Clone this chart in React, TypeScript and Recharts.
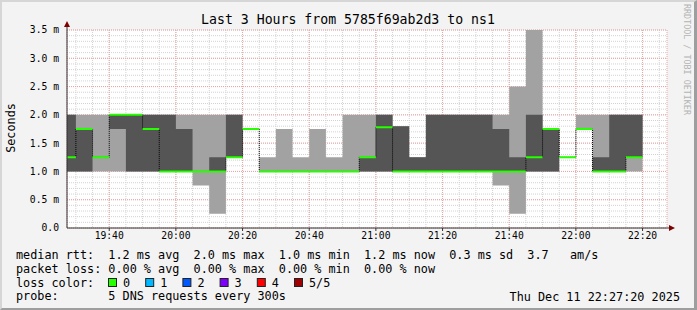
import React from 'react';
import { ComposedChart, Area, Line, XAxis, YAxis, CartesianGrid } from 'recharts';

const MONO = '"DejaVu Sans Mono", monospace';

// 5-minute bins (start of each bin), values in milliseconds
const binTimes = [
  '19:25', '19:30', '19:35', '19:40', '19:45', '19:50', '19:55',
  '20:00', '20:05', '20:10', '20:15', '20:20', '20:25', '20:30', '20:35', '20:40', '20:45', '20:50', '20:55',
  '21:00', '21:05', '21:10', '21:15', '21:20', '21:25', '21:30', '21:35', '21:40', '21:45', '21:50', '21:55',
  '22:00', '22:05', '22:10', '22:15',
];
const rttMin = [
  1.0, 1.0, 1.0, 1.0, 1.0, 1.0, 1.0,
  1.0, 0.75, 0.25, 1.25, 1.75, 1.0, 1.0, 1.0, 1.0, 1.0, 1.0, 1.0,
  1.0, 1.0, 1.0, 1.0, 1.0, 1.0, 1.0, 0.75, 0.25, 1.0, 1.0, 1.25,
  1.75, 1.0, 1.0, 1.0,
];
const rttLow = [
  1.0, 1.0, 1.25, 1.75, 1.0, 1.0, 1.0,
  1.0, 1.0, 1.0, 1.25, 1.75, 1.0, 1.0, 1.0, 1.0, 1.0, 1.0, 1.0,
  1.0, 1.0, 1.0, 1.0, 1.0, 1.0, 1.0, 1.0, 1.0, 1.0, 1.0, 1.25,
  1.75, 1.0, 1.0, 1.25,
];
const rttMedian = [
  1.25, 1.75, 1.25, 2.0, 2.0, 1.75, 1.0,
  1.0, 1.0, 1.0, 1.25, 1.75, 1.0, 1.0, 1.0, 1.0, 1.0, 1.0, 1.25,
  1.78, 1.0, 1.0, 1.0, 1.0, 1.0, 1.0, 1.0, 1.0, 1.25, 1.75, 1.25,
  1.75, 1.0, 1.0, 1.25,
];
const rttHigh = [
  2.0, 1.75, 1.25, 2.0, 2.0, 2.0, 2.0,
  1.75, 1.0, 1.25, 2.0, 1.75, 1.0, 1.0, 1.0, 1.0, 1.0, 1.0, 1.25,
  2.0, 1.8, 1.25, 2.0, 2.0, 2.0, 2.0, 1.75, 1.25, 2.0, 1.75, 1.25,
  1.75, 1.25, 2.0, 2.0,
];
const rttMax = [
  2.0, 2.0, 2.0, 2.0, 2.0, 2.0, 2.0,
  2.0, 2.0, 2.0, 2.0, 1.75, 1.25, 1.75, 1.25, 1.75, 1.25, 2.0, 2.0,
  2.0, 1.8, 1.25, 2.0, 2.0, 2.0, 2.0, 2.0, 2.5, 3.5, 1.75, 1.25,
  2.0, 2.0, 2.0, 2.0,
];

const xTickLabels = ['19:40', '20:00', '20:20', '20:40', '21:00', '21:20', '21:40', '22:00', '22:20'];
const yTicks = [0, 0.5, 1.0, 1.5, 2.0, 2.5, 3.0, 3.5];

const lossColors = [
  { label: '0', color: '#26ff00' },
  { label: '1', color: '#00b8ff' },
  { label: '2', color: '#0059ff' },
  { label: '3', color: '#7e00ff' },
  { label: '4', color: '#ff0000' },
  { label: '5/5', color: '#a00000' },
];

const toMin = (s: string) => {
  const [h, m] = s.split(':').map(Number);
  return h * 60 + m;
};
const fmtTime = (v: number) => `${Math.floor(v / 60)}:${String(Math.round(v % 60)).padStart(2, '0')}`;

// window: last 3 hours ending 22:27:20
const END = toMin('22:27') + 20 / 60;
const START = END - 180;
const Y_MAX = 3.5;
const PLOT_H = 198;
const HALF_LINE = 1 / (PLOT_H / Y_MAX); // 1px in data units, for the 2px median band

const rows = binTimes.map((t, i) => ({
  t: toMin(t),
  lo: rttMin[i],
  q1: rttLow[i],
  med: rttMedian[i],
  q3: rttHigh[i],
  hi: rttMax[i],
}));
// closing point so the last step is drawn to its end
rows.push({ ...rows[rows.length - 1], t: rows[rows.length - 1].t + 5 });

const xTicks = xTickLabels.map(toMin);

// minor grid: every 5 minutes / every 0.1 ms
const minorVertical = ({ offset }: any) => {
  const out: number[] = [];
  for (let v = Math.ceil(START / 5) * 5; v <= END; v += 5) {
    out.push(offset.left + ((v - START) / (END - START)) * offset.width);
  }
  return out;
};
const minorHorizontal = ({ offset }: any) => {
  const out: number[] = [];
  for (let i = 1; i <= 35; i++) {
    out.push(offset.top + offset.height * (1 - i / 10 / Y_MAX));
  }
  return out;
};

const YArrow = (props: any) => {
  const { x, y, width } = props.viewBox;
  const ax = x + width;
  return (
    <g>
      <line x1={ax} x2={ax} y1={y} y2={y - 4} stroke="#333" />
      <path d={`M${ax - 3},${y - 3} L${ax + 3},${y - 3} L${ax},${y - 9} Z`} fill="#7f0000" />
    </g>
  );
};

const XArrow = (props: any) => {
  const { x, y, width } = props.viewBox;
  const ax = x + width;
  return (
    <g>
      <line x1={ax} x2={ax + 3} y1={y} y2={y} stroke="#333" />
      <path d={`M${ax + 2},${y - 3} L${ax + 2},${y + 3} L${ax + 8},${y} Z`} fill="#7f0000" />
    </g>
  );
};

const legendRows = [
  'median rtt:  1.2 ms avg  2.0 ms max  1.0 ms min  1.2 ms now  0.3 ms sd  3.7   am/s',
  'packet loss: 0.00 % avg  0.00 % max  0.00 % min  0.00 % now',
  'loss color:',
  'probe:       5 DNS requests every 300s',
];

export default function App() {
  return (
    <div style={{ position: 'absolute', left: 0, top: 0, width: 697, height: 310, background: '#f3f3f3' }}>
      <div
        style={{
          position: 'absolute',
          inset: 0,
          boxSizing: 'border-box',
          borderTop: '2px solid #d6d6d6',
          borderLeft: '2px solid #d6d6d6',
          borderRight: '3px solid #9e9e9e',
          borderBottom: '2px solid #9e9e9e',
        }}
      />
      <div style={{ position: 'absolute', left: 0, top: 0 }}>
        <ComposedChart width={697} height={310} data={rows} margin={{ top: 30, right: 30, bottom: 62, left: 7 }}>
          <CartesianGrid
            xAxisId="m"
            yAxisId="m"
            fill="#ffffff"
            stroke="#d2d2d2"
            strokeDasharray="1 1"
            verticalCoordinatesGenerator={minorVertical}
            horizontalCoordinatesGenerator={minorHorizontal}
          />
          <CartesianGrid xAxisId="m" yAxisId="m" stroke="#eda3a3" strokeDasharray="1 1" />
          <XAxis
            xAxisId="m"
            type="number"
            dataKey="t"
            domain={[START, END]}
            ticks={xTicks}
            interval={0}
            allowDataOverflow
            tickFormatter={fmtTime}
            height={20}
            tickSize={3}
            tickMargin={1}
            stroke="#333"
            tick={{ fill: '#000', fontSize: 9.7, fontFamily: MONO }}
            label={XArrow}
          />
          <YAxis
            yAxisId="m"
            type="number"
            domain={[0, Y_MAX]}
            ticks={yTicks}
            interval={0}
            allowDataOverflow
            width={60}
            tickLine={false}
            stroke="#333"
            tickFormatter={(v: number) => (v === 0 ? '0.0' : `${v.toFixed(1)} m`)}
            tick={{ fill: '#000', fontSize: 9.7, fontFamily: MONO }}
            label={YArrow}
          />
          <Area
            xAxisId="m"
            yAxisId="m"
            type="stepAfter"
            dataKey={(d: any) => [d.lo, d.hi]}
            fill="#a2a2a2"
            fillOpacity={1}
            stroke="none"
            isAnimationActive={false}
            zIndex={100}
          />
          <Area
            xAxisId="m"
            yAxisId="m"
            type="stepAfter"
            dataKey={(d: any) => [d.q1, d.q3]}
            fill="#555555"
            fillOpacity={1}
            stroke="none"
            isAnimationActive={false}
            zIndex={101}
          />
          <Line
            xAxisId="m"
            yAxisId="m"
            type="stepAfter"
            dataKey="med"
            stroke="#000"
            strokeWidth={1}
            strokeDasharray="1 1"
            dot={false}
            isAnimationActive={false}
            zIndex={102}
          />
          <Area
            xAxisId="m"
            yAxisId="m"
            type="stepAfter"
            dataKey={(d: any) => [d.med - HALF_LINE, d.med + HALF_LINE]}
            fill="#26ff00"
            fillOpacity={1}
            stroke="none"
            isAnimationActive={false}
            zIndex={103}
          />
        </ComposedChart>
      </div>
      <svg width={697} height={310} style={{ position: 'absolute', left: 0, top: 0, pointerEvents: 'none' }}>
        <text x={348} y={24} textAnchor="middle" fontFamily={MONO} fontSize={13.2} fill="#000">
          Last 3 Hours from 5785f69ab2d3 to ns1
        </text>
        <text
          x={15}
          y={128}
          textAnchor="middle"
          fontFamily={MONO}
          fontSize={11.8}
          fill="#000"
          transform="rotate(-90 15 128)"
        >
          Seconds
        </text>
        <text x={684} y={4} fontFamily={MONO} fontSize={8.4} fill="#b4b4b4" transform="rotate(90 684 4)">
          RRDTOOL / TOBI OETIKER
        </text>
        {legendRows.map((s, i) => (
          <text
            key={i}
            x={16}
            y={259.2 + 13.75 * i}
            fontFamily={MONO}
            fontSize={11.8}
            fill="#000"
            xmlSpace="preserve"
            style={{ whiteSpace: 'pre' }}
          >
            {s}
          </text>
        ))}
        {lossColors.map((c, i) => (
          <g key={c.label}>
            <rect x={108.5 + 37.2 * i} y={278.5} width={8} height={8} fill={c.color} stroke="#222" strokeWidth={1} />
            <text x={123 + 37.2 * i} y={286.7} fontFamily={MONO} fontSize={11.8} fill="#000">
              {c.label}
            </text>
          </g>
        ))}
        <text x={680} y={300.5} textAnchor="end" fontFamily={MONO} fontSize={11.8} fill="#000">
          Thu Dec 11 22:27:20 2025
        </text>
      </svg>
    </div>
  );
}
